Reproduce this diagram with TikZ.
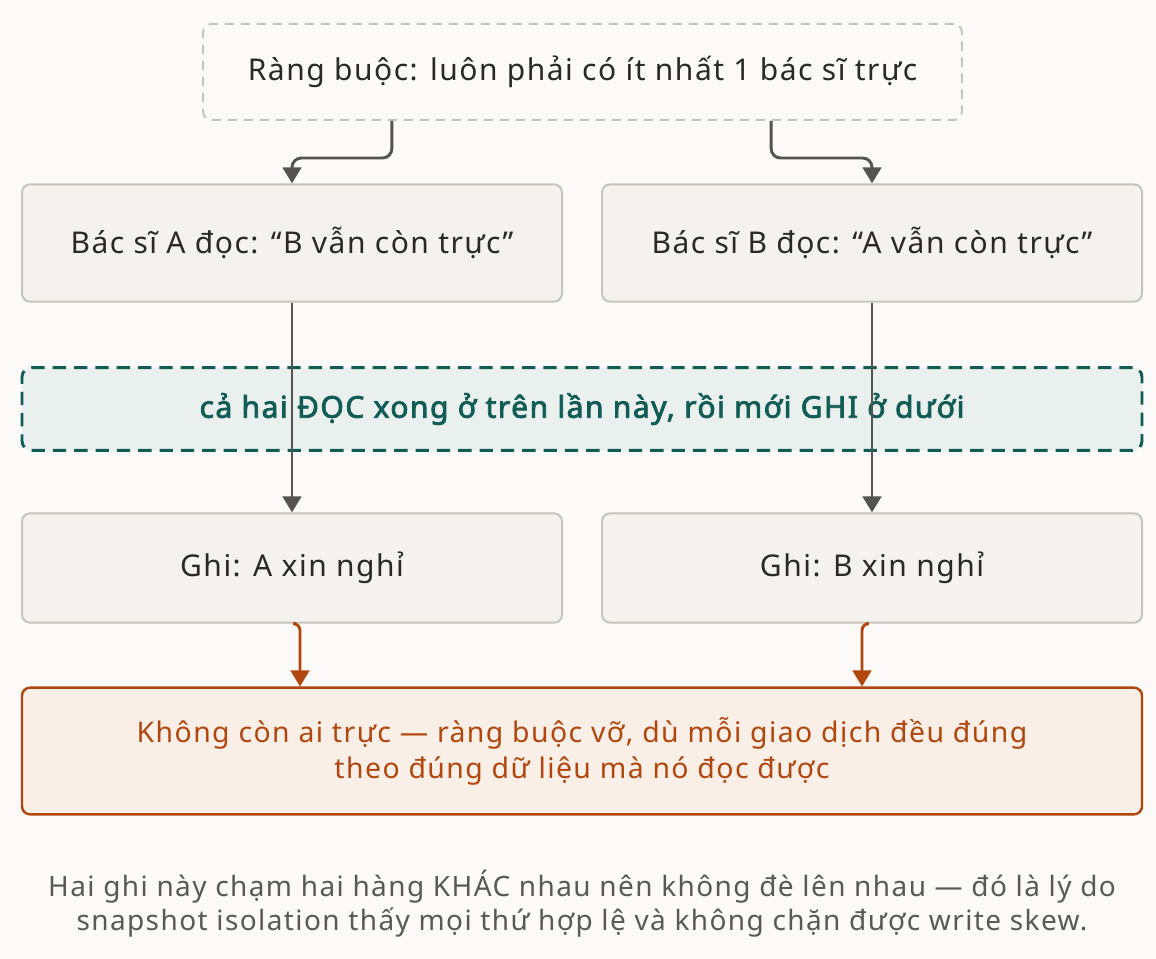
\documentclass[tikz,border=0pt]{standalone}
\usepackage{fontspec}
\setmainfont{Noto Sans}[AutoFakeBold = 2.6, LetterSpace = 5]
\usetikzlibrary{arrows.meta}
\definecolor{bg}{HTML}{FBFAF8}
\definecolor{boxfill}{HTML}{F3F2EE}
\definecolor{boxline}{HTML}{C8C4BB}
\definecolor{ink}{HTML}{2A2925}
\definecolor{flowc}{HTML}{55534E}
\definecolor{tealc}{HTML}{115C55}
\definecolor{tealfill}{HTML}{E9F0EE}
\definecolor{warnc}{HTML}{B1470F}
\definecolor{warnfill}{HTML}{F9EFE6}
\definecolor{notec}{HTML}{5B5953}

\begin{document}
\begin{tikzpicture}
      [x = 0.75pt, y = -0.75pt,
      box/.style= {
         draw = boxline,
         fill = boxfill,
         line width = 1.5pt,
         rounded corners = 6pt,
         minimum width = 405pt,
         minimum height = 88pt,
         text = ink,
         font = \fontsize{22.5}{26}\selectfont
      },
      rulebox/.style= {
         box,
         fill = bg,
         dash pattern = on 7pt off 5pt,
         minimum width = 569pt,
         minimum height = 72pt
      },
      band/.style= {
         draw = tealc,
         fill = tealfill,
         line width = 2.2pt,
         dash pattern = on 10pt off 6pt,
         rounded corners = 7pt,
         minimum width = 840pt,
         minimum height = 62pt,
         text = tealc,
         font = \fontsize{22.5}{26}\selectfont\bfseries
      },
      outbox/.style= {
         draw = warnc,
         fill = warnfill,
         line width = 1.8pt,
         rounded corners = 6pt,
         minimum width = 840pt,
         minimum height = 95pt,
         align = center,
         text = warnc,
         font = \fontsize{21.3}{27}\selectfont
      },
      flow/.style= {
         draw = flowc,
         line width = 2.2pt,
         -{Triangle[width = 14pt, length = 12pt]}
      },
      warn/.style= {
         flow,
         draw = warnc,
         fill = none
      }]
      \fill[bg] (0, 0) rectangle (1156, 959);

      \node[rulebox] (rule) at (582.5, 72) {Ràng buộc: luôn phải có ít nhất 1 bác sĩ trực};

      \node[box] (readA) at (292, 243) {Bác sĩ A đọc: “B vẫn còn trực”};
      \node[box] (readB) at (872, 243) {Bác sĩ B đọc: “A vẫn còn trực”};

      \node[band] (snap) at (582, 409) {cả hai ĐỌC xong ở trên lần này, rồi mới GHI ở dưới};

      \node[box, minimum height = 82pt] (writeA) at (292, 568) {Ghi: A xin nghỉ};
      \node[box, minimum height = 82pt] (writeB) at (872, 568) {Ghi: B xin nghỉ};

      \node[outbox] (outcome) at (582, 751)
         {Không còn ai trực — ràng buộc vỡ, dù mỗi giao dịch đều đúng\\theo đúng dữ liệu mà nó đọc được};

      \node[align = center, text = notec, font = \fontsize{21}{25.5}\selectfont] (note) at (582, 904)
         {Hai ghi này chạm hai hàng KHÁC nhau nên không đè lên nhau — đó là lý do\\snapshot isolation thấy mọi thứ hợp lệ và không chặn được write skew.};

      \draw[flow, rounded corners = 7pt] ([xshift = -143pt]rule.south) -- ++(0, 37) -| (readA.north);
      \draw[flow, rounded corners = 7pt] ([xshift = 141.5pt]rule.south) -- ++(0, 37) -| (readB.north);

      \draw[flow] (readA) -- (writeA);
      \draw[flow] (readB) -- (writeB);

      \draw[warn, rounded corners = 5pt] ([xshift = 3pt]writeA.south) -| ([xshift = 6pt]writeA.south |- outcome.north);
      \draw[warn, rounded corners = 5pt] ([xshift = -4.5pt]writeB.south) -| ([xshift = -7.5pt]writeB.south |- outcome.north);

\end{tikzpicture}
\end{document}
